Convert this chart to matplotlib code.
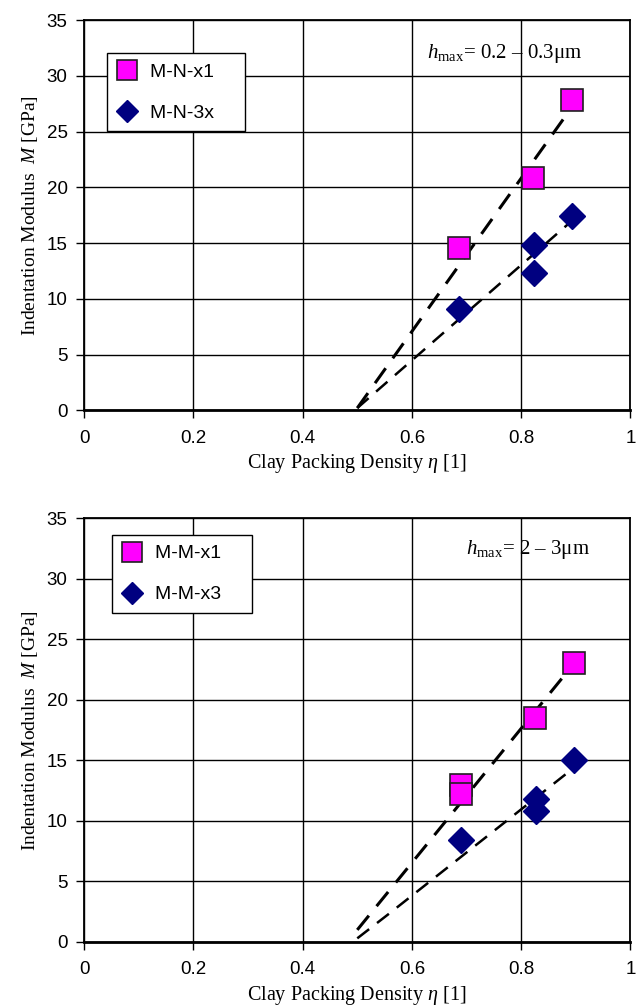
import matplotlib
matplotlib.use("Agg")
import matplotlib.pyplot as plt

plt.rcParams["mathtext.fontset"] = "custom"
plt.rcParams["mathtext.rm"] = "Liberation Serif"
plt.rcParams["mathtext.it"] = "Liberation Serif:italic"

# top panel: h_max = 0.2 - 0.3 um
top_sq_x = [0.686, 0.822, 0.893]
top_sq_y = [14.6, 20.8, 27.8]
top_di_x = [0.687, 0.823, 0.823, 0.893]
top_di_y = [9.1, 14.8, 12.3, 17.4]
top_fit1_x = [0.5, 0.893]
top_fit1_y = [0.2, 27.2]
top_fit2_x = [0.5, 0.893]
top_fit2_y = [0.2, 17.0]

# bottom panel: h_max = 2 - 3 um
bot_sq_x = [0.690, 0.690, 0.825, 0.897]
bot_sq_y = [13.0, 12.2, 18.5, 23.0]
bot_di_x = [0.690, 0.828, 0.828, 0.897]
bot_di_y = [8.4, 11.8, 10.8, 15.0]
bot_fit1_x = [0.5, 0.897]
bot_fit1_y = [1.0, 23.0]
bot_fit2_x = [0.5, 0.56, 0.897]
bot_fit2_y = [0.3, 2.4, 14.4]

x_ticks = [0, 0.2, 0.4, 0.6, 0.8, 1]
x_tick_labels = ["0", "0.2", "0.4", "0.6", "0.8", "1"]
y_ticks = [0, 5, 10, 15, 20, 25, 30, 35]


def draw_panel(ax, sq, di, fit1, fit2, labels, note, note_xy, leg_xy):
    ax.set_xlim(0, 1)
    ax.set_ylim(0, 35)
    ax.set_xticks(x_ticks)
    ax.set_xticklabels(x_tick_labels)
    ax.set_yticks(y_ticks)
    ax.grid(True, color="black", linewidth=1)
    ax.set_axisbelow(True)
    for s in ax.spines.values():
        s.set_linewidth(1.3)
    ax.spines["bottom"].set_linewidth(2)
    ax.tick_params(direction="out", length=6, width=1, labelsize=13.5)
    ax.tick_params(axis="x", pad=8)
    ax.tick_params(axis="y", pad=6)
    for lab in ax.get_xticklabels() + ax.get_yticklabels():
        lab.set_family("Liberation Sans")

    ax.plot(fit1[0], fit1[1], color="black", linestyle=(0, (6, 4)), linewidth=2.2, zorder=2)
    ax.plot(fit2[0], fit2[1], color="black", linestyle=(0, (6, 4)), linewidth=1.8, zorder=2)
    ax.plot(sq[0], sq[1], linestyle="none", marker="s", markersize=15.5,
            markerfacecolor="#FF00FF", markeredgecolor="#202020", markeredgewidth=1.2,
            label=labels[0] + "    ", zorder=3)
    ax.plot(di[0], di[1], linestyle="none", marker="D", markersize=13,
            markerfacecolor="#000080", markeredgecolor="#000080",
            label=labels[1] + "    ", zorder=3)

    leg = ax.legend(loc="upper left", bbox_to_anchor=leg_xy, fancybox=False,
                    framealpha=1, edgecolor="black", prop={"family": "Liberation Sans", "size": 14},
                    labelspacing=1.2, borderpad=0.5, handlelength=1.0, handletextpad=0.7,
                    borderaxespad=0)
    leg.get_frame().set_linewidth(1)
    for h in leg.legend_handles:
        h.set_markersize(14 if h.get_marker() == "s" else 11)

    ax.text(note_xy[0], note_xy[1], note, transform=ax.transAxes, fontsize=15,
            family="Liberation Serif", va="center")
    ax.set_xlabel(r"Clay Packing Density $\eta$ [1]", family="Liberation Serif",
                  fontsize=14.5, labelpad=4)
    ax.set_ylabel(r"Indentation Modulus  $M$ [GPa]", family="Liberation Serif",
                  fontsize=14, labelpad=5)


fig = plt.figure(figsize=(6.38, 10.08), dpi=100)
ax1 = fig.add_axes([0.132, 0.593, 0.856, 0.387])
ax2 = fig.add_axes([0.132, 0.0655, 0.856, 0.4205])

draw_panel(ax1, (top_sq_x, top_sq_y), (top_di_x, top_di_y),
           (top_fit1_x, top_fit1_y), (top_fit2_x, top_fit2_y),
           ("M-N-x1", "M-N-3x"), r"$h_{\rm max}$= 0.2 – 0.3μm", (0.628, 0.915), (0.042, 0.915))
draw_panel(ax2, (bot_sq_x, bot_sq_y), (bot_di_x, bot_di_y),
           (bot_fit1_x, bot_fit1_y), (bot_fit2_x, bot_fit2_y),
           ("M-M-x1", "M-M-x3"), r"$h_{\rm max}$= 2 – 3μm", (0.699, 0.925), (0.051, 0.96))

fig.savefig("out.png", dpi=100)
